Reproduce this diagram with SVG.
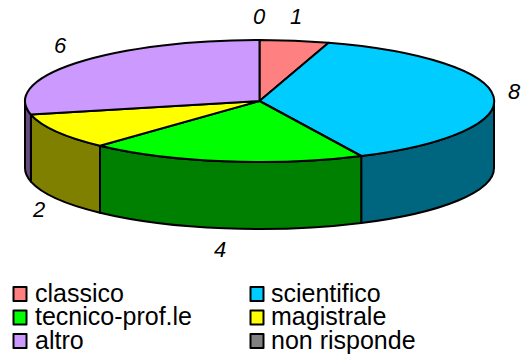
<svg xmlns="http://www.w3.org/2000/svg" width="529" height="358" viewBox="0 0 529 358">
<style>
.s{stroke:#000;stroke-width:2;stroke-linejoin:round}
.lbl{font-family:"Liberation Sans",Arial,sans-serif;font-size:22px;font-style:italic;fill:#000;text-anchor:middle}
.leg{font-family:"Liberation Sans",Arial,sans-serif;font-size:25px;fill:#000}
</style>
<rect width="529" height="358" fill="#fff"/>
<g id="sides">
<path class="s" fill="#006680" d="M494,101 A234.5,61 0 0 1 361.2,156 L361.2,223 A234.5,61 0 0 0 494,168 Z"/>
<path class="s" fill="#008000" d="M361.2,156 A234.5,61 0 0 1 100,145.7 L100,212.7 A234.5,61 0 0 0 361.2,223 Z"/>
<path class="s" fill="#808000" d="M100,145.7 A234.5,61 0 0 1 30.9,114.6 L30.9,181.6 A234.5,61 0 0 0 100,212.7 Z"/>
<path class="s" fill="#664C80" d="M30.9,114.6 A234.5,61 0 0 1 25,101 L25,168 A234.5,61 0 0 0 30.9,181.6 Z"/>
</g>
<g id="classico"><path class="s" fill="#FF8080" d="M259.5,101 L259.5,40 A234.5,61 0 0 1 328.6,42.7 Z"/></g>
<g id="scientifico"><path class="s" fill="#00CCFF" d="M259.5,101 L328.6,42.7 A234.5,61 0 0 1 361.2,156 Z"/></g>
<g id="tecnico"><path class="s" fill="#00FF00" d="M259.5,101 L361.2,156 A234.5,61 0 0 1 100,145.7 Z"/></g>
<g id="magistrale"><path class="s" fill="#FFFF00" d="M259.5,101 L100,145.7 A234.5,61 0 0 1 30.9,114.6 Z"/></g>
<g id="altro"><path class="s" fill="#CC99FF" d="M259.5,101 L30.9,114.6 A234.5,61 0 0 1 259.5,40 Z"/></g>
<g id="labels">
<text class="lbl" x="259" y="24">0</text>
<text class="lbl" x="296" y="24">1</text>
<text class="lbl" x="514" y="99">8</text>
<text class="lbl" x="60" y="53">6</text>
<text class="lbl" x="39" y="217">2</text>
<text class="lbl" x="220" y="257">4</text>
</g>
<g id="legend">
<rect class="s" x="13.5" y="287" width="13" height="14" fill="#FF8080"/>
<rect class="s" x="13.5" y="310.5" width="13" height="14" fill="#00FF00"/>
<rect class="s" x="13.5" y="334" width="13" height="14" fill="#CC99FF"/>
<rect class="s" x="250.5" y="287" width="13" height="14" fill="#00CCFF"/>
<rect class="s" x="250.5" y="310.5" width="13" height="14" fill="#FFFF00"/>
<rect class="s" x="250.5" y="334" width="13" height="14" fill="#808080"/>
<text class="leg" x="35" y="302">classico</text>
<text class="leg" x="35" y="325">tecnico-prof.le</text>
<text class="leg" x="35" y="348.5">altro</text>
<text class="leg" x="271" y="302">scientifico</text>
<text class="leg" x="271" y="325">magistrale</text>
<text class="leg" x="271" y="348.5">non risponde</text>
</g>
</svg>
